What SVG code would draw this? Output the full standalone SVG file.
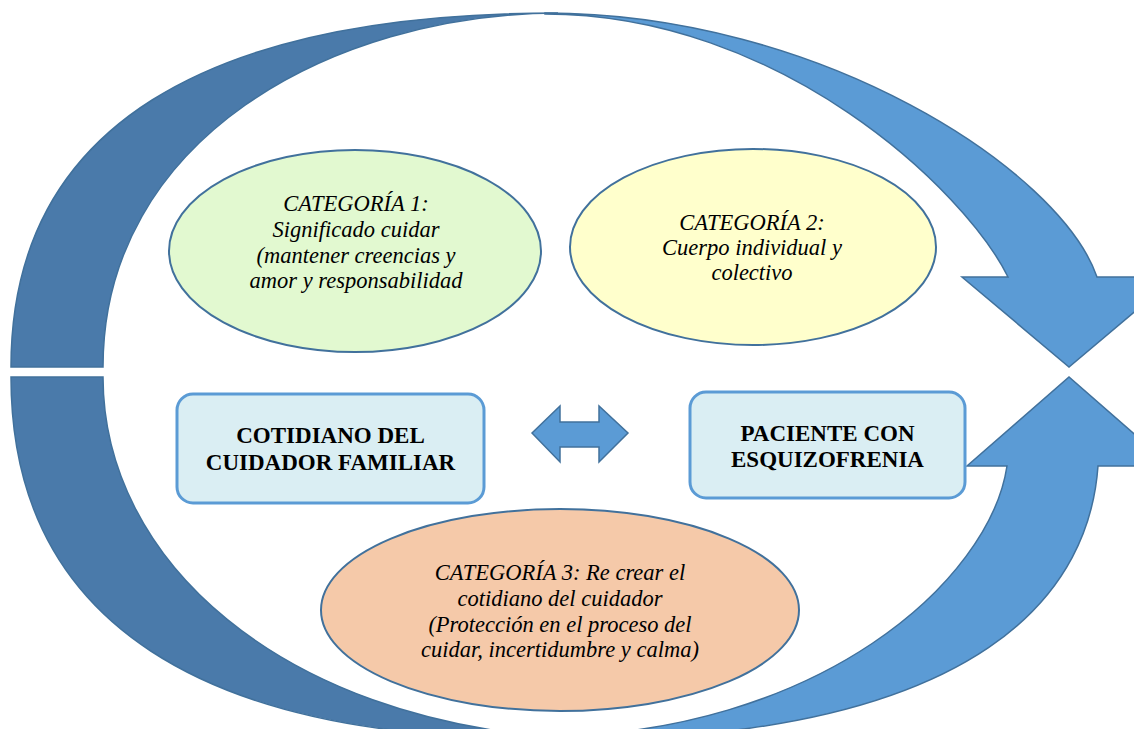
<svg xmlns="http://www.w3.org/2000/svg" width="1134" height="729" viewBox="0 0 1134 729">
  <style>
    .dark { fill: #4A7AAA; stroke: #41719C; stroke-width: 1.5; }
    .light { fill: #5B9BD5; stroke: #41719C; stroke-width: 1.5; }
    .ell { stroke: #41719C; stroke-width: 2; }
    .box { fill: #DAEEF3; stroke: #5B9BD5; stroke-width: 3; }
    .it { font-family: "Liberation Serif", "Times New Roman", serif; font-style: italic; font-size: 22.5px; fill: #000; text-anchor: middle; }
    .bd { font-family: "Liberation Serif", "Times New Roman", serif; font-weight: bold; font-size: 23px; fill: #000; text-anchor: middle; }
  </style>
  <rect width="1134" height="729" fill="#FFFFFF"/>
  <g id="connectors">
    <path id="arrow-bottom-right" class="light" d="M 540 740 C 1000 745, 1090 580, 1098 466 L 1171 466 L 1069 377 L 967 466 L 1007 466 C 990 580, 820 735, 540 737 Z"/>
    <path id="arrow-bottom-left" class="dark" d="M 11 377 L 103 377 C 103 560, 280 720, 565 738 C 200 745, 11 620, 11 377 Z"/>
    <path id="arrow-top-right" class="light" d="M 545 13 C 820 13, 1060 170, 1097 277 L 1176 277 L 1069 367 L 962 277 L 1008 277 C 965 190, 780 14, 545 14 Z"/>
    <path id="arrow-top-left" class="dark" d="M 11 367 C 11 127, 205 13, 558 13 C 330 14, 103 140, 103 367 Z"/>
    <path id="double-arrow" class="light" d="M 532 433 L 560 406 L 560 422 L 599 422 L 599 406 L 628 433 L 599 462 L 599 447 L 560 447 L 560 462 Z"/>
  </g>
  <g id="cat1">
    <ellipse class="ell" cx="355" cy="251" rx="186" ry="101" fill="#E2F9D0"/>
    <text class="it" x="356" y="211">CATEGORÍA 1:</text>
    <text class="it" x="356" y="237">Significado cuidar</text>
    <text class="it" x="356" y="263">(mantener creencias y</text>
    <text class="it" x="356" y="288">amor y responsabilidad</text>
  </g>
  <g id="cat2">
    <ellipse class="ell" cx="753" cy="247" rx="183" ry="98" fill="#FFFFCC"/>
    <text class="it" x="752" y="230">CATEGORÍA 2:</text>
    <text class="it" x="752" y="255">Cuerpo individual y</text>
    <text class="it" x="752" y="280">colectivo</text>
  </g>
  <g id="cat3">
    <ellipse class="ell" cx="560" cy="610" rx="239" ry="101" fill="#F5C9A9"/>
    <text class="it" x="560" y="580">CATEGORÍA 3: Re crear el</text>
    <text class="it" x="560" y="606">cotidiano del cuidador</text>
    <text class="it" x="560" y="632">(Protección en el proceso del</text>
    <text class="it" x="560" y="657">cuidar, incertidumbre y calma)</text>
  </g>
  <g id="cuidador">
    <rect class="box" x="177" y="394" width="307" height="109" rx="16"/>
    <text class="bd" x="330.5" y="443">COTIDIANO DEL</text>
    <text class="bd" x="330.5" y="470">CUIDADOR FAMILIAR</text>
  </g>
  <g id="paciente">
    <rect class="box" x="690" y="392" width="275" height="106" rx="16"/>
    <text class="bd" x="827.5" y="441">PACIENTE CON</text>
    <text class="bd" x="827.5" y="467">ESQUIZOFRENIA</text>
  </g>
</svg>
